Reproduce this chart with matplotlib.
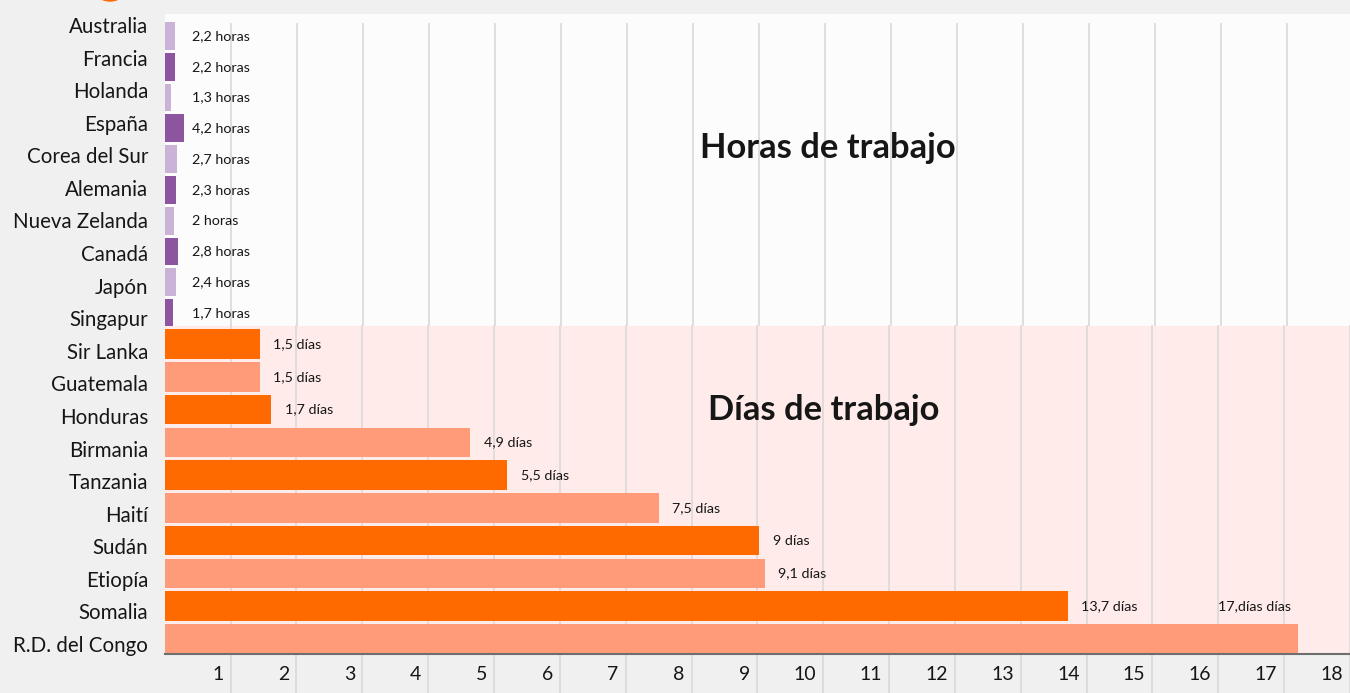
import matplotlib
matplotlib.use("Agg")
import matplotlib.pyplot as plt
from matplotlib.patches import Ellipse
from matplotlib.transforms import offset_copy

# ---------------- data ----------------
hour_countries = ["Australia", "Francia", "Holanda", "España", "Corea del Sur",
                  "Alemania", "Nueva Zelanda", "Canadá", "Japón", "Singapur"]
hour_values = [2.2, 2.2, 1.3, 4.2, 2.7, 2.3, 2.0, 2.8, 2.4, 1.7]
hour_labels = ["2,2 horas", "2,2 horas", "1,3 horas", "4,2 horas", "2,7 horas",
               "2,3 horas", "2 horas", "2,8 horas", "2,4 horas", "1,7 horas"]

day_countries = ["Sir Lanka", "Guatemala", "Honduras", "Birmania", "Tanzania",
                 "Haití", "Sudán", "Etiopía", "Somalia", "R.D. del Congo"]
day_values = [1.43, 1.43, 1.61, 4.63, 5.19, 7.49, 9.02, 9.1, 13.7, 17.2]
day_labels = ["1,5 días", "1,5 días", "1,7 días", "4,9 días", "5,5 días",
              "7,5 días", "9 días", "9,1 días", "13,7 días", "17,días días"]

x_ticks = list(range(1, 19))
x_ticklabels = [str(t) for t in x_ticks]

section_titles = ["Horas de trabajo", "Días de trabajo"]

# display scale: hour bars drawn on the day axis
HOUR_SCALE = 0.068

# ---------------- style ----------------
FONT = ["Lato", "DejaVu Sans"]
plt.rcParams["font.family"] = FONT

BG = "#f0f0f0"
TOP_BG = "#fcfcfc"
BOT_BG = "#ffecea"
PURPLE_L = "#cbb3d8"
PURPLE_D = "#8d55a0"
ORANGE = "#ff6a00"
SALMON = "#ff9b78"
GRID = "#d9d9d9"
TXT = "#161616"

W, H = 1350, 693
fig = plt.figure(figsize=(W / 100, H / 100), dpi=100, facecolor=BG)

left = 164.7 / W
width = 1 - left
y_mid = 1 - 326 / H
y_top = 1 - 14 / H
y_bot = 1 - 654 / H

ax_top = fig.add_axes([left, y_mid, width, y_top - y_mid], facecolor=TOP_BG)
ax_bot = fig.add_axes([left, y_bot, width, y_mid - y_bot], facecolor=BOT_BG)
# invisible axis carrying the country names on a uniform grid
ax_lab = fig.add_axes([left, y_bot, width, y_top - y_bot], facecolor="none")

XMAX = (W - 164.7) / 66.0

# decorative circle at top-left
fig.patches.append(Ellipse((110 / W, 1 + 19 / H), 40 / W, 40 / H,
                           transform=fig.transFigure, color=ORANGE, zorder=5))

# ---------------- top (hours) ----------------
ypos = list(range(len(hour_countries)))
hcolors = [PURPLE_L if i % 2 == 0 else PURPLE_D for i in ypos]
ax_top.barh(ypos, [v * HOUR_SCALE for v in hour_values], height=0.9,
            color=hcolors, zorder=2, left=0.01)
ax_top.set_xlim(0, XMAX)
ax_top.set_ylim(9.42, -0.71)
ax_top.vlines(x_ticks, -0.43, 9.42, color=GRID, lw=1.2, zorder=1)
for i, lab in enumerate(hour_labels):
    ax_top.text(0.42, i, lab, ha="left", va="center", fontsize=10.3, color=TXT, zorder=3)
ax_top.text(10.05, 0.5375, section_titles[0], transform=ax_top.get_xaxis_transform(),
            ha="center", va="baseline", fontsize=24.8, fontweight="bold", color=TXT)

# ---------------- bottom (days) ----------------
ypos2 = list(range(len(day_countries)))
dcolors = [ORANGE if i % 2 == 0 else SALMON for i in ypos2]
ax_bot.barh(ypos2, day_values, height=0.9, color=dcolors, zorder=2, left=0.01)
ax_bot.set_xlim(0, XMAX)
ax_bot.set_ylim(9.46, -0.55)
for x in x_ticks:
    ax_bot.axvline(x, ymin=-0.12, ymax=1, color=GRID, lw=1.2, zorder=1, clip_on=False)
n = len(day_labels)
for i, (v, lab) in enumerate(zip(day_values, day_labels)):
    if i == n - 1:
        ax_bot.text(v - 0.1, i - 1, lab, ha="right", va="center", fontsize=10.3,
                    color=TXT, zorder=3)
    else:
        ax_bot.text(v + 0.22, i, lab, ha="left", va="center", fontsize=10.3,
                    color=TXT, zorder=3)
ax_bot.text(10.0, 0.7134, section_titles[1], transform=ax_bot.get_xaxis_transform(),
            ha="center", va="baseline", fontsize=24.8, fontweight="bold", color=TXT)

# ---------------- axes cosmetics ----------------
for ax in (ax_top, ax_bot, ax_lab):
    for s in ax.spines.values():
        s.set_visible(False)
    ax.set_yticks([])
    ax.set_axisbelow(True)

names = hour_countries + day_countries
ax_lab.set_xlim(0, XMAX)
ax_lab.set_ylim(19.307, -0.338)
ax_lab.set_yticks(range(len(names)))
ax_lab.set_yticklabels(names, fontsize=14.8, color=TXT)
ax_lab.tick_params(axis="y", length=0, pad=12)
ax_lab.set_xticks([])

ax_top.set_xticks([])
ax_bot.spines["bottom"].set_visible(True)
ax_bot.spines["bottom"].set_color("#6e6e6e")
ax_bot.spines["bottom"].set_linewidth(1.5)
ax_bot.spines["bottom"].set_zorder(4)
ax_bot.set_xticks(x_ticks)
ax_bot.set_xticklabels(x_ticklabels, fontsize=14, color=TXT)
ax_bot.tick_params(axis="x", length=0, pad=9)
for lab in ax_bot.get_xticklabels():
    lab.set_horizontalalignment("right")
    lab.set_transform(offset_copy(lab.get_transform(), fig=fig, x=-7, y=0, units="dots"))

fig.savefig("out.png", dpi=100, facecolor=BG)
